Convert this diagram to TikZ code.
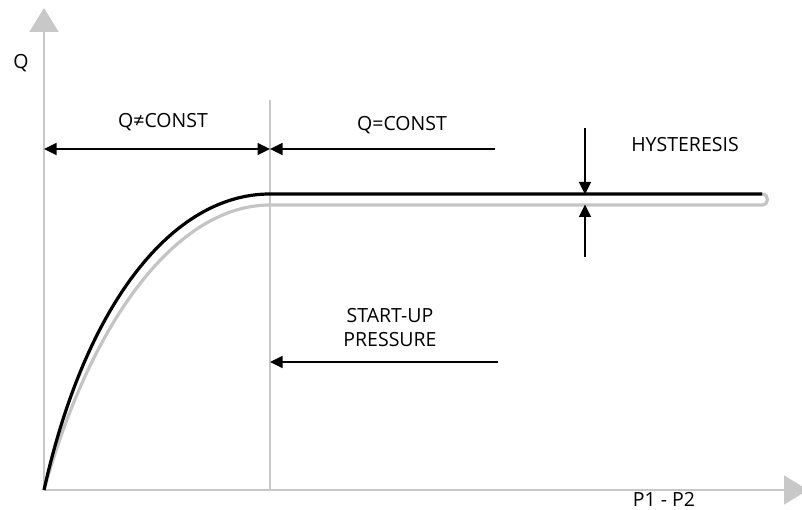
\documentclass[tikz,border=0pt]{standalone}
\usepackage{fontspec}
\setmainfont{Open Sans}
\usetikzlibrary{arrows.meta}
\definecolor{axgr}{HTML}{C8C8C8}
\definecolor{hygr}{HTML}{C4C4C4}
\tikzset{
  lbl/.style={font=\fontsize{19.5}{24}\selectfont,align=center,inner sep=0pt},
  axis/.style={draw=axgr,line width=1.6pt,-{Triangle[length=24pt,width=29pt]}},
  tip/.style={Triangle[length=12.5pt,width=12pt]},
  dim/.style={line width=1.7pt,-{Triangle[length=12.5pt,width=12pt]}},
  curv/.style={line width=3.2pt},
}
\begin{document}
\begin{tikzpicture}[x=1pt,y=-1pt]
\useasboundingbox (0,0) rectangle (802,510);
\coordinate (O) at (44,490);
\coordinate (ytop) at (44,8);
\coordinate (xend) at (808,490);
\coordinate (knee) at (270,194);
\coordinate (kneeg) at (270,205);
\coordinate (endb) at (762,194);
\coordinate (endg) at (762,205);
\draw[axis] (O) -- (ytop);
\draw[axis] (O) -- (xend);
\draw[draw=axgr,line width=1.4pt] (270,100) coordinate (vtop) -- (270,490) coordinate (vbot);
% hysteresis loop
\draw[curv,draw=hygr] (O) .. controls (92,318) and (178,205) .. (kneeg) -- (endg)
  .. controls (769.3,205) and (769.3,194) .. (endb);
\draw[curv] (O) .. controls (85,305) and (172,194) .. (knee) -- (endb);
% dimension arrows
\coordinate (a1) at (44,149); \coordinate (a2) at (270,149); \coordinate (a3) at (495,149);
\draw[dim,{Triangle[length=12.5pt,width=12pt]}-{Triangle[length=12.5pt,width=12pt]}] (a1) -- (a2);
\draw[dim] (a3) -- (a2);
\coordinate (h1) at (585,128); \coordinate (h2) at (585,194.5);
\coordinate (h3) at (585,257); \coordinate (h4) at (585,204.5);
\draw[dim] (h1) -- (h2);
\draw[dim] (h3) -- (h4);
\coordinate (s1) at (498,362); \coordinate (s2) at (270,362);
\draw[dim] (s1) -- (s2);
% labels
\node[lbl] (qlbl) at (21,63) {Q};
\node[lbl] (pneq) at (163,122) {Q≠CONST};
\node[lbl] (peq) at (402,125) {Q=CONST};
\node[lbl] (hyst) at (685,145) {HYSTERESIS};
\node[lbl] (start) at (390,328) {START-UP\\PRESSURE};
\node[lbl] (pdiff) at (664,499) {P1 - P2};
\end{tikzpicture}
\end{document}
